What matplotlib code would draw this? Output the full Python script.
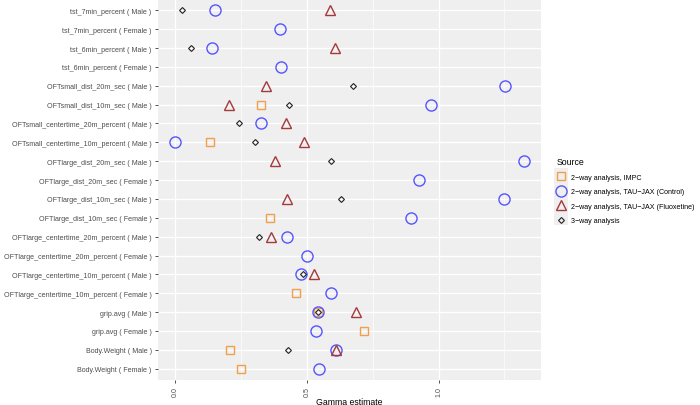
import matplotlib.pyplot as plt
from matplotlib.lines import Line2D
from matplotlib.patches import Rectangle

plt.rcParams['font.family'] = ['Liberation Sans', 'DejaVu Sans']

# row labels, top to bottom
labels = [
    "tst_7min_percent ( Male )",
    "tst_7min_percent ( Female )",
    "tst_6min_percent ( Male )",
    "tst_6min_percent ( Female )",
    "OFTsmall_dist_20m_sec ( Male )",
    "OFTsmall_dist_10m_sec ( Male )",
    "OFTsmall_centertime_20m_percent ( Male )",
    "OFTsmall_centertime_10m_percent ( Male )",
    "OFTlarge_dist_20m_sec ( Male )",
    "OFTlarge_dist_20m_sec ( Female )",
    "OFTlarge_dist_10m_sec ( Male )",
    "OFTlarge_dist_10m_sec ( Female )",
    "OFTlarge_centertime_20m_percent ( Male )",
    "OFTlarge_centertime_20m_percent ( Female )",
    "OFTlarge_centertime_10m_percent ( Male )",
    "OFTlarge_centertime_10m_percent ( Female )",
    "grip.avg ( Male )",
    "grip.avg ( Female )",
    "Body.Weight ( Male )",
    "Body.Weight ( Female )",
]

# gamma estimates per source (None = not present)
impc = [None, None, None, None, None, 0.325, None, 0.131, None, None,
        None, 0.358, None, None, None, 0.458, 0.540, 0.716, 0.207, 0.250]
control = [0.151, 0.399, 0.138, 0.403, 1.253, 0.973, 0.324, 0.0, 1.323, 0.924,
           1.248, 0.897, 0.423, 0.500, 0.477, 0.593, 0.540, 0.536, 0.610, 0.545]
fluox = [0.589, None, 0.605, None, 0.344, 0.204, 0.422, 0.488, 0.378, None,
         0.424, None, 0.364, None, 0.525, None, 0.687, None, 0.610, None]
threeway = [0.024, None, 0.060, None, 0.674, 0.433, 0.240, 0.301, 0.593, None,
            0.631, None, 0.319, None, 0.483, None, 0.540, None, 0.427, None]

sources = ["2\u2212way analysis, IMPC",
           "2\u2212way analysis, TAU\u2212JAX (Control)",
           "2\u2212way analysis, TAU\u2212JAX (Fluoxetine)",
           "3\u2212way analysis"]
series = [impc, control, fluox, threeway]
markers = ['s', 'o', '^', 'D']
colors = ['#F0A04B', '#5555FF', '#A5393C', '#222222']
sizes = [6, 8, 7.5, 3.0]
mews = [1.0, 1.0, 1.0, 0.8]

fig = plt.figure(figsize=(7, 4.06), dpi=100)
ax = fig.add_axes([158 / 700, 25 / 406, 383 / 700, 381 / 406])
ax.set_facecolor('#EFEFEF')

n = len(labels)
ypos = {lab: n - 1 - i for i, lab in enumerate(labels)}

for vals, m, c, s, mew in zip(series, markers, colors, sizes, mews):
    xs = [v for v in vals if v is not None]
    ys = [ypos[lab] for lab, v in zip(labels, vals) if v is not None]
    ax.plot(xs, ys, linestyle='none', marker=m, markersize=s,
            markerfacecolor='none', markeredgecolor=c, markeredgewidth=mew,
            zorder=3)

ax.set_xlim(-0.066, 1.389)
ax.set_ylim(-0.6, n - 0.4)
ax.set_yticks(range(n))
ax.set_yticklabels(labels[::-1], fontsize=5.15, color='#4D4D4D')
ax.set_xticks([0.0, 0.5, 1.0])
ax.set_xticklabels(['0.0', '0.5', '1.0'], rotation=90, fontsize=5.15,
                   color='#4D4D4D')
ax.set_xticks([0.25, 0.75, 1.25], minor=True)
ax.tick_params(axis='both', which='major', length=2.5, width=0.6,
               color='#333333', pad=2)
ax.tick_params(axis='x', which='minor', length=0)
ax.grid(which='major', color='white', linewidth=0.9)
ax.grid(which='minor', axis='x', color='white', linewidth=0.45)
ax.set_axisbelow(True)
for sp in ax.spines.values():
    sp.set_visible(False)

ax.set_xlabel('Gamma estimate', fontsize=6.3)
ax.xaxis.set_label_coords(0.5, -17 / 381)

# legend with grey key background
fig.patches.append(Rectangle((554 / 700, 1 - 226 / 406), 14 / 700, 57 / 406,
                             transform=fig.transFigure, facecolor='#EFEFEF',
                             edgecolor='none'))
handles = [Line2D([], [], linestyle='none', marker=m, markersize=s,
                  markerfacecolor='none', markeredgecolor=c,
                  markeredgewidth=mew)
           for m, c, s, mew in zip(markers, colors, sizes, mews)]
leg = fig.legend(handles, sources, loc='upper left',
                 bbox_to_anchor=(552 / 700, 1 - 153 / 406),
                 frameon=False, fontsize=5.15, title='Source',
                 title_fontsize=6.3, handlelength=1.0, handletextpad=1.0,
                 labelspacing=1.05, borderpad=0.2)
leg._legend_box.align = 'left'

fig.savefig('out.png', dpi=100)
